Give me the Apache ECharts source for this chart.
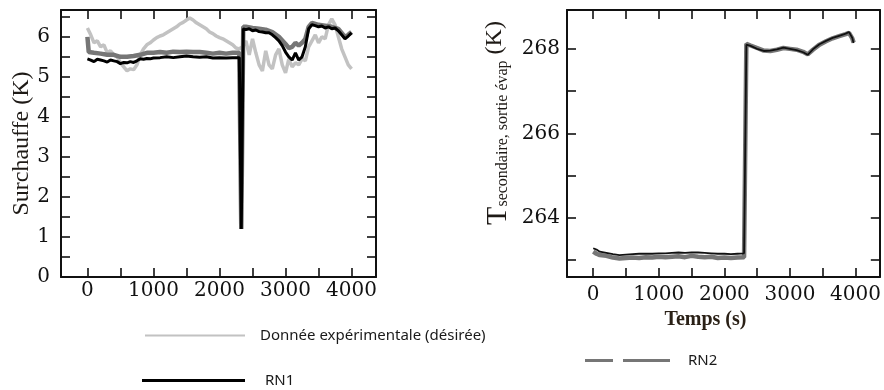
<!DOCTYPE html>
<html>
<head>
<meta charset="utf-8">
<script src="https://cdn.jsdelivr.net/npm/echarts@6/dist/echarts.min.js"></script>
<style>
  html, body { margin: 0; padding: 0; background: #fff; }
  #chart { width: 884px; height: 390px; }
</style>
</head>
<body>
<div id="chart"></div>
<script>
// ---- Surchauffe (left panel) ----
const expTime = [0,50,100,150,200,250,300,350,400,450,500,550,600,650,700,750,800,850,900,950,
  1000,1050,1100,1150,1200,1250,1300,1350,1400,1450,1500,1550,1600,1650,1700,1750,1800,1850,1900,1950,
  2000,2050,2100,2150,2200,2250,2300,2350,2400,2450,2500,2550,2600,2650,2700,2750,2800,2850,2900,2950,
  3000,3050,3100,3150,3200,3250,3300,3350,3400,3450,3500,3550,3600,3650,3700,3750,3800,3850,3900,3950,4000];
const expSurchauffe = [6.22,6.05,5.85,5.9,5.75,5.8,5.6,5.65,5.55,5.5,5.35,5.25,5.15,5.2,5.18,5.3,5.55,5.7,5.8,5.85,
  5.92,5.98,6.02,6.05,6.1,6.15,6.2,6.25,6.32,6.36,6.42,6.47,6.42,6.35,6.3,6.25,6.2,6.12,6.08,6.02,
  5.98,5.95,5.9,5.85,5.8,5.72,5.7,5.75,5.9,5.55,5.95,5.6,5.3,5.15,5.65,5.3,5.2,5.55,5.7,5.3,
  5.1,5.45,5.25,5.35,5.3,5.45,5.4,5.75,5.9,6.05,5.85,6.0,5.95,6.3,6.45,6.3,6.0,5.7,5.5,5.3,5.2];

const rn1Time = [0,50,100,150,200,250,300,350,400,450,500,550,600,650,700,750,800,850,900,950,
  1000,1100,1200,1300,1400,1500,1600,1700,1800,1900,2000,2100,2200,2300,2330,2360,
  2400,2450,2500,2550,2600,2650,2700,2750,2800,2850,2900,2950,3000,3050,3100,3150,3200,3250,
  3300,3350,3400,3450,3500,3550,3600,3650,3700,3750,3800,3850,3900,3950,4000];
const rn1Surchauffe = [5.45,5.42,5.38,5.44,5.42,5.4,5.37,5.42,5.4,5.38,5.33,5.36,5.35,5.38,5.36,5.4,5.45,5.44,5.46,5.45,
  5.47,5.48,5.5,5.48,5.5,5.52,5.5,5.49,5.5,5.47,5.48,5.47,5.48,5.48,1.2,6.2,
  6.18,6.2,6.15,6.17,6.13,6.12,6.1,6.1,6.05,5.98,5.9,5.78,5.62,5.5,5.42,5.6,5.42,5.5,
  5.75,6.2,6.3,6.28,6.25,6.27,6.22,6.25,6.2,6.22,6.15,6.05,5.95,6.02,6.1];

const rn2Time = [0,20,100,200,300,400,500,600,700,800,900,1000,1100,1200,1300,1400,1500,1600,1700,1800,
  1900,2000,2100,2200,2300,2330,2360,2400,2500,2600,2700,2800,2900,3000,3050,3100,3150,3200,3250,
  3300,3350,3400,3500,3600,3700,3800,3850,3900,3950,4000];
const rn2Surchauffe = [6.0,5.62,5.6,5.58,5.55,5.55,5.5,5.5,5.52,5.55,5.6,5.6,5.62,5.6,5.63,5.62,5.63,5.62,5.62,5.6,
  5.58,5.6,5.58,5.6,5.6,1.2,6.25,6.25,6.22,6.2,6.18,6.12,6.0,5.82,5.72,5.75,5.85,5.78,5.85,
  5.95,6.25,6.35,6.3,6.28,6.25,6.2,6.1,6.0,6.05,6.12];

// ---- T secondaire, sortie évap (right panel) ----
const tsecTime = [0,50,100,200,300,400,500,600,700,800,900,1000,1100,1200,1300,1400,1500,1600,1700,1800,
  1900,2000,2100,2200,2300,2335,2400,2500,2600,2700,2800,2900,3000,3100,3200,3270,3350,3450,3550,3650,
  3750,3850,3900,3950,3970];
const rn2Tsec = [263.2,263.15,263.12,263.1,263.06,263.04,263.05,263.06,263.05,263.07,263.06,263.08,263.07,263.08,263.09,263.07,263.1,263.08,263.07,263.08,
  263.05,263.06,263.05,263.06,263.07,268.12,268.08,268.02,267.96,267.95,267.98,268.02,268.0,267.98,267.93,267.87,267.98,268.1,268.18,268.25,
  268.3,268.35,268.38,268.25,268.15];
const rn1Tsec = [263.28,263.25,263.2,263.17,263.14,263.12,263.13,263.14,263.15,263.15,263.15,263.16,263.16,263.17,263.18,263.17,263.18,263.18,263.17,263.16,
  263.15,263.15,263.14,263.15,263.16,268.1,268.07,268.0,267.95,267.96,267.99,268.03,268.0,267.97,267.92,267.86,267.99,268.11,268.19,268.26,
  268.31,268.36,268.4,268.26,268.14];

// tick labels shown on each axis
const timeTicks = [0, 1000, 2000, 3000, 4000];
const surchauffeTicks = [0, 1, 2, 3, 4, 5, 6];
const tsecTicks = [264, 266, 268];

const NAME_EXP = 'Donnée expérimentale (désirée)';
const NAME_RN1 = 'RN1';
const NAME_RN2 = 'RN2';

const zip = (xs, ys) => xs.map((x, i) => [x, ys[i]]);

const tickFont = { fontFamily: 'DejaVu Serif', fontSize: 20, color: '#111' };
const frameLine = { show: true, onZero: false, lineStyle: { color: '#111', width: 2 } };
const tickStyle = { show: true, inside: true, length: 9, lineStyle: { color: '#111', width: 1.6 } };
const minorStyle = { show: true, splitNumber: 2, length: 9, lineStyle: { color: '#111', width: 1.6 } };
const legendText = { fontFamily: 'Noto Sans', fontSize: 15, color: '#1a1a1a' };

function timeAxis(gridIndex, position, showLabels, labelMargin, extra) {
  return Object.assign({
    type: 'value', gridIndex, position, min: -400, max: 4370, splitNumber: 5,
    axisLine: frameLine, axisTick: tickStyle, minorTick: minorStyle,
    splitLine: { show: false }, minorSplitLine: { show: false },
    axisLabel: {
      show: showLabels, margin: labelMargin, ...tickFont,
      formatter: v => (timeTicks.indexOf(v) >= 0 ? String(v) : '')
    }
  }, extra || {});
}

function valueAxis(gridIndex, position, min, max, ticks, splitNumber, showLabels, labelMargin, extra) {
  return Object.assign({
    type: 'value', gridIndex, position, min, max, splitNumber,
    axisLine: frameLine, axisTick: tickStyle, minorTick: minorStyle,
    splitLine: { show: false }, minorSplitLine: { show: false },
    axisLabel: {
      show: showLabels, margin: labelMargin, ...tickFont,
      formatter: v => (ticks.indexOf(v) >= 0 ? String(v) : '')
    }
  }, extra || {});
}

const option = {
  backgroundColor: '#ffffff',
  animation: false,
  grid: [
    { left: 61, right: 508, top: 10, bottom: 113 },
    { left: 567, right: 1, top: 10, bottom: 113 }
  ],
  xAxis: [
    timeAxis(0, 'bottom', true, 4),
    timeAxis(0, 'top', false, 5),
    timeAxis(1, 'bottom', true, 8, {
      name: 'Temps (s)', nameLocation: 'middle', nameGap: 24,
      nameTextStyle: { fontFamily: 'Liberation Serif', fontWeight: 'bold', fontSize: 20, color: '#2a2016', padding: [0, 36, 0, 0] }
    }),
    timeAxis(1, 'top', false, 5)
  ],
  yAxis: [
    valueAxis(0, 'left', 0, 6.67, surchauffeTicks, 6, true, 11, {
      name: 'Surchauffe (K)', nameLocation: 'middle', nameGap: 24, nameRotate: 90,
      nameTextStyle: { fontFamily: 'Liberation Serif', fontSize: 24, color: '#1e1a16' }
    }),
    valueAxis(0, 'right', 0, 6.67, surchauffeTicks, 6, false, 8),
    valueAxis(1, 'left', 262.6, 268.92, tsecTicks, 3, true, 7),
    valueAxis(1, 'right', 262.6, 268.92, tsecTicks, 3, false, 8)
  ],
  legend: [
    {
      data: [{ name: NAME_EXP, icon: 'rect' }], left: 145, top: 328, padding: 0,
      itemWidth: 100, itemHeight: 2, selectedMode: false,
      textStyle: Object.assign({ padding: [0, 0, 0, 10] }, legendText)
    },
    {
      data: [{ name: NAME_RN1, icon: 'rect' }], left: 142, top: 373, padding: 0,
      itemWidth: 103, itemHeight: 3, selectedMode: false,
      textStyle: Object.assign({ padding: [0, 0, 0, 15] }, legendText)
    },
    {
      data: [{ name: NAME_RN2, icon: 'path://M0,0H28V3H0Z M38,0H85V3H38Z' }], left: 585, top: 353, padding: 0,
      itemWidth: 85, itemHeight: 3, selectedMode: false,
      textStyle: Object.assign({ padding: [0, 0, 0, 13] }, legendText)
    }
  ],
  graphic: [
    {
      type: 'text', x: 497, y: 123, rotation: Math.PI / 2,
      style: {
        text: '{t|T}{s|secondaire, sortie évap}{k| (K)}',
        align: 'center', verticalAlign: 'middle', fill: '#1e1a16',
        rich: {
          t: { fontFamily: 'Liberation Serif', fontSize: 30, lineHeight: 28, padding: [0, 0, 8, 0], verticalAlign: 'top' },
          s: { fontFamily: 'Liberation Serif', fontSize: 16, lineHeight: 16, verticalAlign: 'bottom' },
          k: { fontFamily: 'Liberation Serif', fontSize: 24, lineHeight: 28, padding: [0, 0, 8, 0], verticalAlign: 'top' }
        }
      }
    }
  ],
  series: [
    {
      name: NAME_EXP, type: 'line', xAxisIndex: 0, yAxisIndex: 0, showSymbol: false, z: 2,
      data: zip(expTime, expSurchauffe), color: '#c2c2c2',
      lineStyle: { color: '#c2c2c2', width: 3.5 }
    },
    {
      name: NAME_RN2, type: 'line', xAxisIndex: 0, yAxisIndex: 0, showSymbol: false, z: 3,
      data: zip(rn2Time, rn2Surchauffe), color: '#767676',
      lineStyle: { color: '#767676', width: 4.5 }
    },
    {
      name: NAME_RN1, type: 'line', xAxisIndex: 0, yAxisIndex: 0, showSymbol: false, z: 4,
      data: zip(rn1Time, rn1Surchauffe), color: '#000',
      lineStyle: { color: '#000', width: 3 }
    },
    {
      name: NAME_RN2, type: 'line', xAxisIndex: 2, yAxisIndex: 2, showSymbol: false, z: 3,
      data: zip(tsecTime, rn2Tsec), color: '#767676',
      lineStyle: { color: '#767676', width: 4.5 }
    },
    {
      name: NAME_RN1, type: 'line', xAxisIndex: 2, yAxisIndex: 2, showSymbol: false, z: 4,
      data: zip(tsecTime, rn1Tsec), color: '#000',
      lineStyle: { color: '#111', width: 1.8 }
    }
  ]
};

const chart = echarts.init(document.getElementById('chart'), null, { renderer: 'canvas' });
chart.setOption(option);
</script>
</body>
</html>
